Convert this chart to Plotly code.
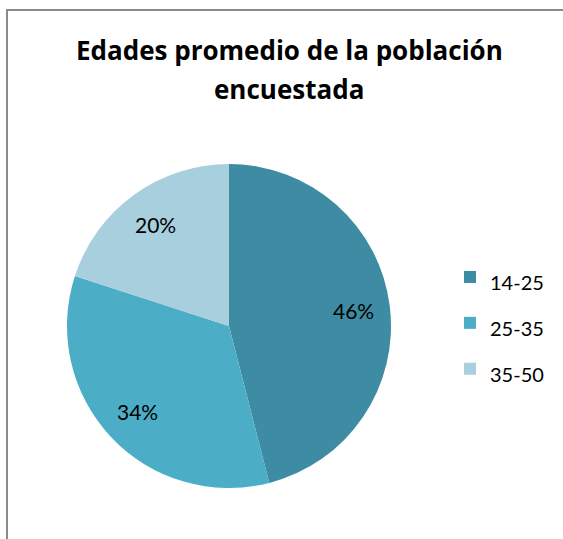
import math
import plotly.graph_objects as go

categories = ["14-25", "25-35", "35-50"]
values = [46, 34, 20]
colors = ["#3E8CA3", "#4BADC6", "#A8CFDD"]
title_lines = ["Edades promedio de la población", "encuestada"]

W, H = 563, 539
cx, cy, r = 229, 326, 162

fig = go.Figure(go.Pie(
    labels=[f"<span style='font-size:20px'>{c}</span>" for c in categories],
    values=values,
    marker=dict(colors=colors, line=dict(width=0)),
    sort=False,
    direction="clockwise",
    rotation=0,
    textinfo="none",
    hoverinfo="label+percent",
    domain=dict(x=[(cx - r) / W, (cx + r) / W], y=[1 - (cy + r) / H, 1 - (cy - r) / H]),
))

# percentage labels placed along each slice bisector (computed from the data)
total = sum(values)
annotations = []
cum = 0
for v in values:
    mid = (cum + v / 2) / total * 2 * math.pi
    cum += v
    x = cx + 0.775 * r * math.sin(mid)
    y = cy - 0.775 * r * math.cos(mid)
    annotations.append(dict(
        text=f"{round(v / total * 100)}%", x=x / W, y=1 - y / H,
        xref="paper", yref="paper", showarrow=False,
        xanchor="center", yanchor="middle",
        font=dict(family="Lato", size=21, color="black"),
    ))

# two-line bold title
for line, yc in zip(title_lines, [50, 89]):
    annotations.append(dict(
        text="<b>" + line + "</b>", x=289 / W, y=1 - yc / H,
        xref="paper", yref="paper", showarrow=False,
        xanchor="center", yanchor="middle",
        font=dict(family="Open Sans", size=26, color="black"),
    ))

fig.update_layout(
    width=W, height=H,
    margin=dict(l=0, r=0, t=0, b=0),
    paper_bgcolor="white",
    plot_bgcolor="white",
    legend=dict(x=450 / W, y=1 - 249 / H, xanchor="left", yanchor="top",
                font=dict(family="Lato", size=33, color="black"),
                bgcolor="rgba(0,0,0,0)"),
    annotations=annotations,
    shapes=[
        dict(type="line", xref="paper", yref="paper",
             x0=6 / W, x1=1.0, y0=1 - 10 / H, y1=1 - 10 / H,
             line=dict(color="#8A8A8A", width=2)),
        dict(type="line", xref="paper", yref="paper",
             x0=7 / W, x1=7 / W, y0=0, y1=1 - 9 / H,
             line=dict(color="#8A8A8A", width=2)),
    ],
)

fig.write_html(
    "out.html",
    config={"displayModeBar": False},
    post_script="document.body.style.margin='0';document.body.style.overflow='hidden';",
)
